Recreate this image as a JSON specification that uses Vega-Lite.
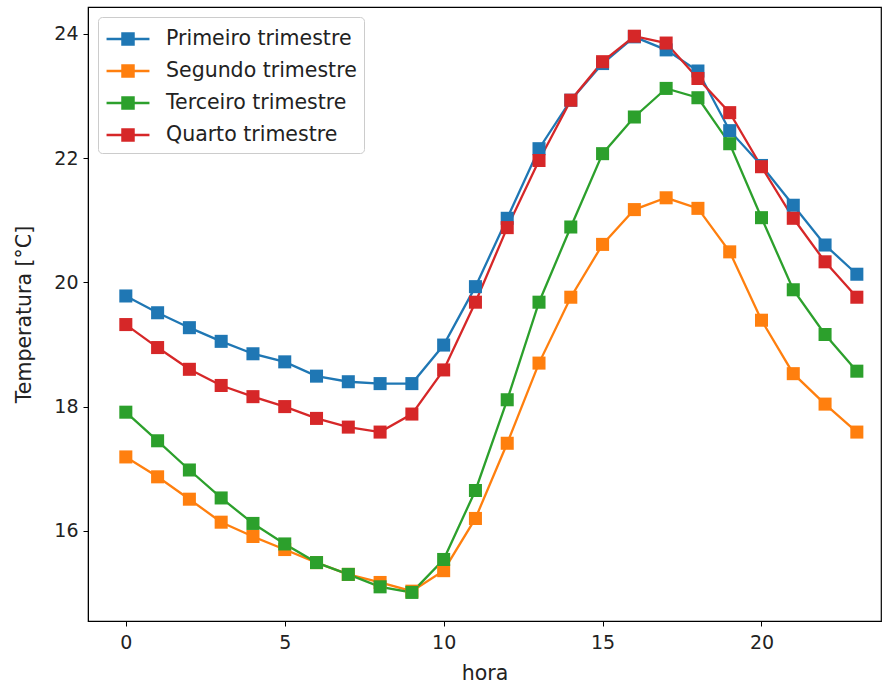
{
  "$schema": "https://vega.github.io/schema/vega-lite/v6.json",
  "width": 793,
  "height": 614,
  "autosize": "none",
  "padding": {"left": 88, "top": 7, "right": 4, "bottom": 65},
  "background": "white",
  "config": {
    "font": "DejaVu Sans",
    "view": {"stroke": "black", "strokeWidth": 1.2},
    "axis": {
      "grid": false,
      "domainColor": "black",
      "tickColor": "black",
      "labelColor": "#222",
      "titleColor": "#222",
      "labelFont": "DejaVu Sans",
      "titleFont": "DejaVu Sans",
      "labelFontSize": 19,
      "titleFontSize": 20.5,
      "titleFontWeight": "normal",
      "tickSize": 5,
      "labelPadding": 5
    }
  },
  "data": {
    "values": [
      {"h":0,"s":"Primeiro trimestre","t":19.78},{"h":1,"s":"Primeiro trimestre","t":19.51},{"h":2,"s":"Primeiro trimestre","t":19.27},{"h":3,"s":"Primeiro trimestre","t":19.05},{"h":4,"s":"Primeiro trimestre","t":18.85},{"h":5,"s":"Primeiro trimestre","t":18.72},{"h":6,"s":"Primeiro trimestre","t":18.49},{"h":7,"s":"Primeiro trimestre","t":18.40},{"h":8,"s":"Primeiro trimestre","t":18.37},{"h":9,"s":"Primeiro trimestre","t":18.37},{"h":10,"s":"Primeiro trimestre","t":18.99},{"h":11,"s":"Primeiro trimestre","t":19.93},{"h":12,"s":"Primeiro trimestre","t":21.03},{"h":13,"s":"Primeiro trimestre","t":22.15},{"h":14,"s":"Primeiro trimestre","t":22.93},{"h":15,"s":"Primeiro trimestre","t":23.52},{"h":16,"s":"Primeiro trimestre","t":23.95},{"h":17,"s":"Primeiro trimestre","t":23.74},{"h":18,"s":"Primeiro trimestre","t":23.40},{"h":19,"s":"Primeiro trimestre","t":22.44},{"h":20,"s":"Primeiro trimestre","t":21.88},{"h":21,"s":"Primeiro trimestre","t":21.24},{"h":22,"s":"Primeiro trimestre","t":20.60},{"h":23,"s":"Primeiro trimestre","t":20.13},
      {"h":0,"s":"Segundo trimestre","t":17.19},{"h":1,"s":"Segundo trimestre","t":16.87},{"h":2,"s":"Segundo trimestre","t":16.51},{"h":3,"s":"Segundo trimestre","t":16.14},{"h":4,"s":"Segundo trimestre","t":15.91},{"h":5,"s":"Segundo trimestre","t":15.70},{"h":6,"s":"Segundo trimestre","t":15.49},{"h":7,"s":"Segundo trimestre","t":15.30},{"h":8,"s":"Segundo trimestre","t":15.17},{"h":9,"s":"Segundo trimestre","t":15.03},{"h":10,"s":"Segundo trimestre","t":15.36},{"h":11,"s":"Segundo trimestre","t":16.20},{"h":12,"s":"Segundo trimestre","t":17.41},{"h":13,"s":"Segundo trimestre","t":18.70},{"h":14,"s":"Segundo trimestre","t":19.76},{"h":15,"s":"Segundo trimestre","t":20.61},{"h":16,"s":"Segundo trimestre","t":21.17},{"h":17,"s":"Segundo trimestre","t":21.36},{"h":18,"s":"Segundo trimestre","t":21.19},{"h":19,"s":"Segundo trimestre","t":20.49},{"h":20,"s":"Segundo trimestre","t":19.39},{"h":21,"s":"Segundo trimestre","t":18.53},{"h":22,"s":"Segundo trimestre","t":18.04},{"h":23,"s":"Segundo trimestre","t":17.59},
      {"h":0,"s":"Terceiro trimestre","t":17.91},{"h":1,"s":"Terceiro trimestre","t":17.45},{"h":2,"s":"Terceiro trimestre","t":16.98},{"h":3,"s":"Terceiro trimestre","t":16.53},{"h":4,"s":"Terceiro trimestre","t":16.12},{"h":5,"s":"Terceiro trimestre","t":15.79},{"h":6,"s":"Terceiro trimestre","t":15.49},{"h":7,"s":"Terceiro trimestre","t":15.30},{"h":8,"s":"Terceiro trimestre","t":15.10},{"h":9,"s":"Terceiro trimestre","t":15.01},{"h":10,"s":"Terceiro trimestre","t":15.54},{"h":11,"s":"Terceiro trimestre","t":16.65},{"h":12,"s":"Terceiro trimestre","t":18.11},{"h":13,"s":"Terceiro trimestre","t":19.68},{"h":14,"s":"Terceiro trimestre","t":20.89},{"h":15,"s":"Terceiro trimestre","t":22.07},{"h":16,"s":"Terceiro trimestre","t":22.66},{"h":17,"s":"Terceiro trimestre","t":23.12},{"h":18,"s":"Terceiro trimestre","t":22.97},{"h":19,"s":"Terceiro trimestre","t":22.23},{"h":20,"s":"Terceiro trimestre","t":21.04},{"h":21,"s":"Terceiro trimestre","t":19.88},{"h":22,"s":"Terceiro trimestre","t":19.16},{"h":23,"s":"Terceiro trimestre","t":18.57},
      {"h":0,"s":"Quarto trimestre","t":19.32},{"h":1,"s":"Quarto trimestre","t":18.95},{"h":2,"s":"Quarto trimestre","t":18.60},{"h":3,"s":"Quarto trimestre","t":18.34},{"h":4,"s":"Quarto trimestre","t":18.16},{"h":5,"s":"Quarto trimestre","t":18.00},{"h":6,"s":"Quarto trimestre","t":17.81},{"h":7,"s":"Quarto trimestre","t":17.67},{"h":8,"s":"Quarto trimestre","t":17.59},{"h":9,"s":"Quarto trimestre","t":17.88},{"h":10,"s":"Quarto trimestre","t":18.59},{"h":11,"s":"Quarto trimestre","t":19.68},{"h":12,"s":"Quarto trimestre","t":20.88},{"h":13,"s":"Quarto trimestre","t":21.96},{"h":14,"s":"Quarto trimestre","t":22.93},{"h":15,"s":"Quarto trimestre","t":23.55},{"h":16,"s":"Quarto trimestre","t":23.96},{"h":17,"s":"Quarto trimestre","t":23.85},{"h":18,"s":"Quarto trimestre","t":23.28},{"h":19,"s":"Quarto trimestre","t":22.73},{"h":20,"s":"Quarto trimestre","t":21.86},{"h":21,"s":"Quarto trimestre","t":21.03},{"h":22,"s":"Quarto trimestre","t":20.33},{"h":23,"s":"Quarto trimestre","t":19.76}
    ]
  },
  "mark": {
    "type": "line",
    "strokeWidth": 2.3,
    "point": {"shape": "square", "size": 170, "filled": true, "opacity": 1}
  },
  "encoding": {
    "x": {
      "field": "h",
      "type": "quantitative",
      "title": "hora",
      "scale": {"domain": [-1.19, 23.76], "nice": false, "zero": false},
      "axis": {"values": [0, 5, 10, 15, 20], "titlePadding": 11, "labelPadding": 7}
    },
    "y": {
      "field": "t",
      "type": "quantitative",
      "title": "Temperatura [°C]",
      "scale": {"domain": [14.55, 24.43], "nice": false, "zero": false},
      "axis": {"values": [16, 18, 20, 22, 24], "titlePadding": 19}
    },
    "color": {
      "field": "s",
      "type": "nominal",
      "title": null,
      "scale": {
        "domain": ["Primeiro trimestre", "Segundo trimestre", "Terceiro trimestre", "Quarto trimestre"],
        "range": ["#1f77b4", "#ff7f0e", "#2ca02c", "#d62728"]
      },
      "legend": {
        "orient": "top-left",
        "offset": 10,
        "padding": 7,
        "fillColor": "white",
        "strokeColor": "#cccccc",
        "cornerRadius": 4,
        "labelFont": "DejaVu Sans",
        "labelFontSize": 20.5,
        "labelColor": "#222",
        "labelLimit": 500,
        "labelOffset": 23,
        "symbolOffset": 8,
        "rowPadding": 6,
        "symbolType": "M-1.43,-0.08H1.43V0.08H-1.43Z M-0.45,-0.45H0.45V0.45H-0.45Z",
        "symbolSize": 900,
        "symbolStrokeWidth": 0,
        "symbolOpacity": 1
      }
    }
  }
}
